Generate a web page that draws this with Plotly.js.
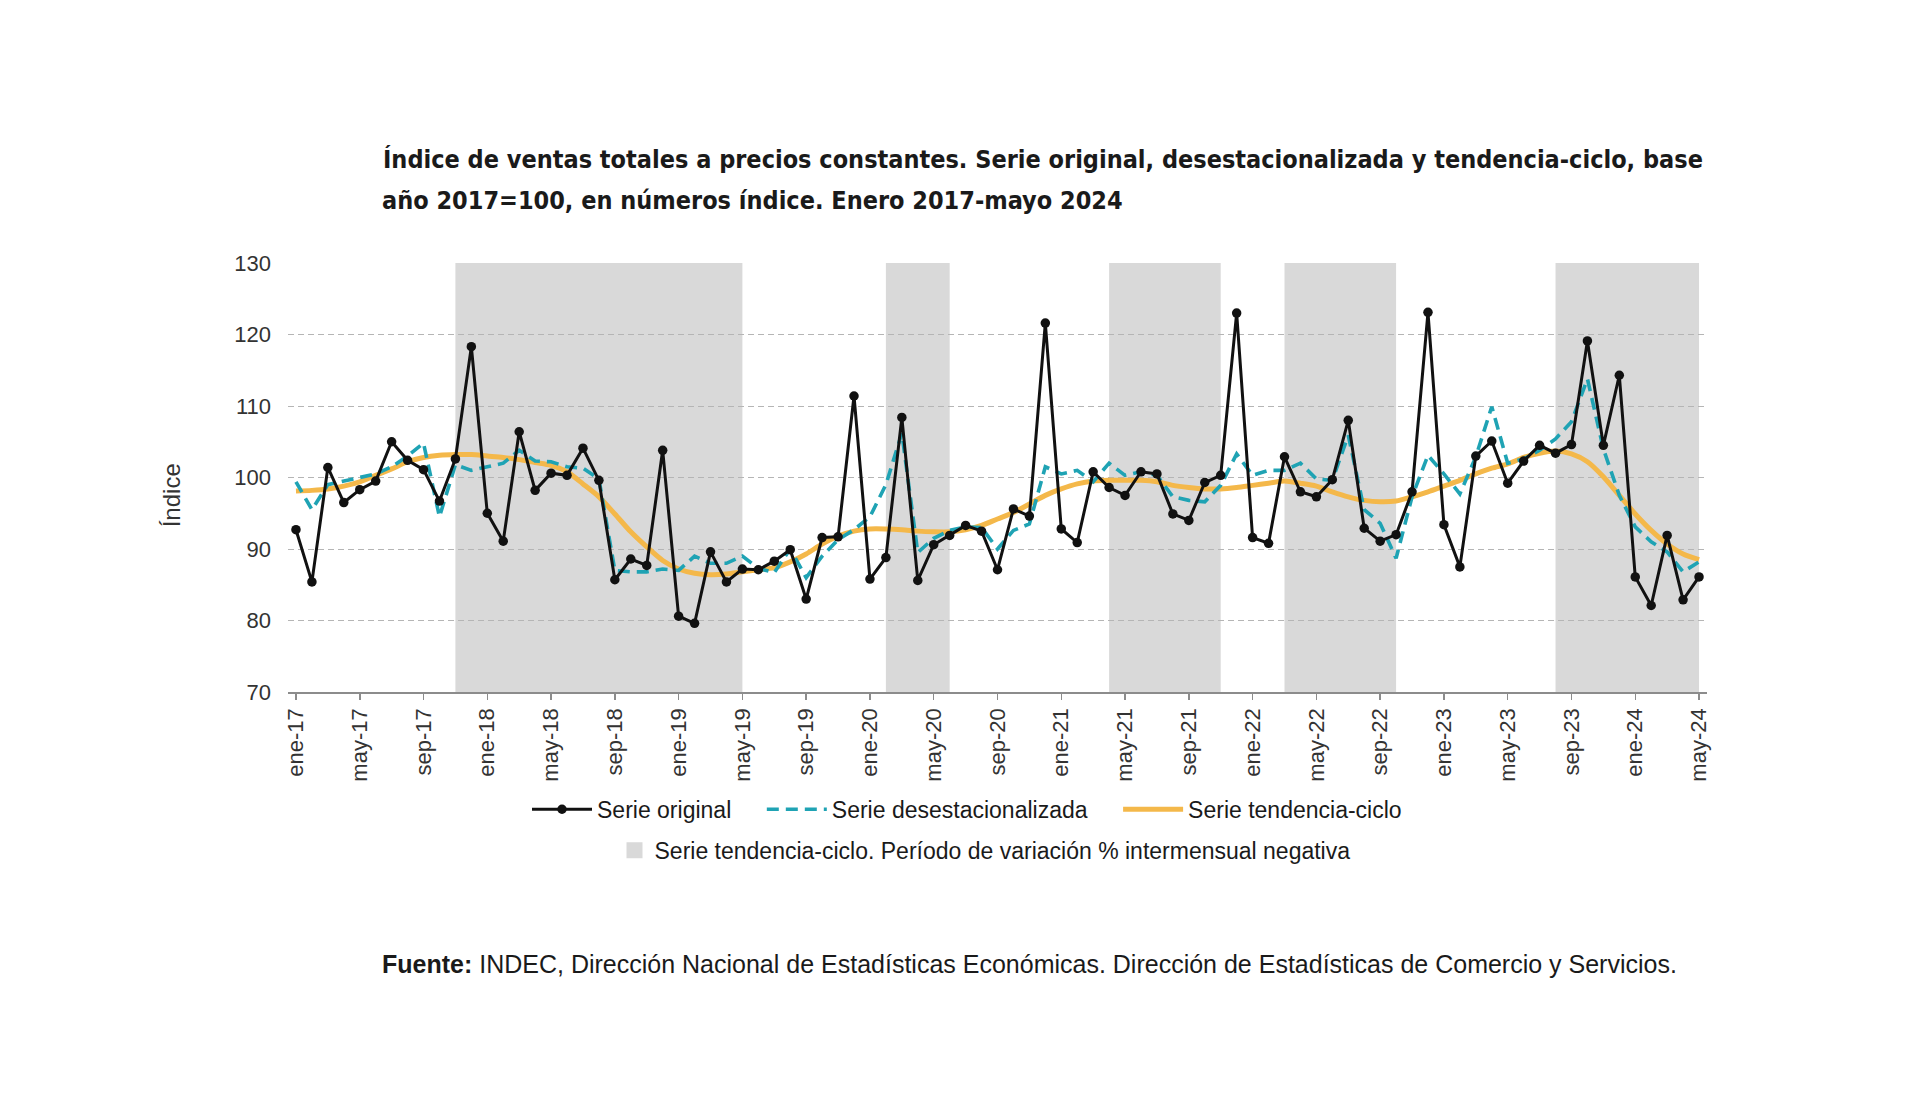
<!DOCTYPE html>
<html>
<head>
<meta charset="utf-8">
<script src="https://cdn.plot.ly/plotly-3.0.1.min.js"></script>
<style>
  html, body { margin: 0; padding: 0; background: #ffffff; }
  #chart { width: 1920px; height: 1117px; }
</style>
</head>
<body>
<div id="chart"></div>
<script>
// ---- Data ----
const monthNames = ['ene','feb','mar','abr','may','jun','jul','ago','sep','oct','nov','dic'];
const years = ['17','18','19','20','21','22','23','24'];
const lastMonthIndex2024 = 4; // mayo 2024

const serieOriginal = [
  92.7, 85.4, 101.4, 96.5, 98.3, 99.5, 105.0, 102.4, 101.1, 96.7, 102.6, 118.3,
  95.0, 91.1, 106.4, 98.2, 100.6, 100.3, 104.1, 99.6, 85.7, 88.6, 87.7, 103.8,
  80.6, 79.6, 89.6, 85.4, 87.2, 87.1, 88.3, 89.9, 83.0, 91.6, 91.7, 111.4,
  85.8, 88.8, 108.4, 85.6, 90.6, 91.9, 93.3, 92.5, 87.1, 95.6, 94.6, 121.6,
  92.8, 90.9, 100.8, 98.6, 97.5, 100.8, 100.5, 94.9, 94.0, 99.3, 100.3, 123.0,
  91.6, 90.8, 102.9, 98.0, 97.3, 99.7, 108.0, 92.9, 91.1, 92.0, 98.0, 123.1,
  93.4, 87.5, 103.0, 105.1, 99.2, 102.3, 104.5, 103.4, 104.6, 119.1, 104.5, 114.3,
  86.1, 82.1, 91.9, 82.9, 86.1
];

const serieDesestacionalizada = [
  99.4, 95.5, 99.0, 99.5, 100.0, 100.5, 101.5, 103.0, 104.8, 94.5, 101.8, 101.0,
  101.5, 102.0, 103.8, 102.3, 102.2, 101.5, 101.3, 99.8, 87.0, 86.8, 86.8, 87.2,
  87.0, 89.0, 88.0, 88.0, 89.0, 87.3, 86.7, 90.0, 86.0, 89.0, 91.3, 92.7,
  94.5, 99.0, 106.2, 89.5, 91.5, 92.6, 93.1, 93.0, 90.0, 92.6, 93.5, 101.5,
  100.5, 101.0, 99.4, 102.0, 100.3, 100.8, 100.3, 97.3, 96.8, 96.6, 98.9, 103.3,
  100.3, 101.0, 101.0, 102.0, 99.8, 99.6, 105.9, 95.5, 93.6, 88.7, 97.3, 103.1,
  100.5, 97.7, 102.9, 109.9, 102.0, 102.6, 103.8, 105.4, 107.8, 113.8, 104.0, 97.5,
  93.1, 91.0, 89.6, 86.8, 88.2
];

const serieTendencia = [
  98.1, 98.2, 98.4, 98.8, 99.4, 100.3, 101.2, 102.2, 102.8, 103.1, 103.2, 103.2,
  103.0, 102.8, 102.5, 102.1, 101.7, 100.8, 99.1, 97.3, 94.9, 92.4, 90.3, 88.4,
  87.2, 86.6, 86.4, 86.5, 86.8, 87.1, 87.4, 88.2, 89.3, 90.7, 91.8, 92.5,
  92.8, 92.8, 92.7, 92.5, 92.4, 92.4, 92.7, 93.3, 94.2, 95.1, 96.3, 97.5,
  98.4, 99.1, 99.5, 99.6, 99.6, 99.6, 99.4, 98.9, 98.6, 98.4, 98.4, 98.6,
  98.9, 99.2, 99.5, 99.2, 98.8, 98.0, 97.3, 96.8, 96.6, 96.7, 97.3, 98.0,
  98.8, 99.6, 100.5, 101.3, 101.9, 102.8, 103.4, 103.7, 103.3, 102.2, 100.1, 97.5,
  94.9, 92.6, 90.7, 89.3, 88.5
];

// Periods with negative month-on-month variation of the trend-cycle (shaded)
const sombraInicio = ['nov-17', 'feb-20', 'abr-21', 'mar-22', 'ago-23'];
const sombraFin    = ['may-19', 'jun-20', 'nov-21', 'oct-22', 'may-24'];

const tituloLinea1 = 'Índice de ventas totales a precios constantes. Serie original, desestacionalizada y tendencia-ciclo, base';
const tituloLinea2 = 'año 2017=100, en números índice. Enero 2017-mayo 2024';

// ---- Build category labels ----
const meses = [];
years.forEach((yy, yi) => {
  monthNames.forEach((m, mi) => {
    if (yi === years.length - 1 && mi > lastMonthIndex2024) return;
    meses.push(m + '-' + yy);
  });
});
const tickMeses = meses.filter((_, i) => i % 4 === 0);

// ---- Pick a condensed bold font for the title and size it to the reference width ----
const ctx = document.createElement('canvas').getContext('2d');
function textWidth(family, size, weight, txt) {
  ctx.font = weight + ' ' + size + 'px ' + family;
  return ctx.measureText(txt).width;
}
function pickFont(cands) {
  const probe = 'Índice de ventas totales abcdefghijklmnopqrstuvwxyz 0123456789';
  const base = textWidth('monospace', 30, 'bold', probe);
  for (const f of cands) {
    if (Math.abs(textWidth('"' + f + '", monospace', 30, 'bold', probe) - base) > 0.5) return f;
  }
  return 'Liberation Sans';
}
const tituloFamilia = pickFont(['Liberation Sans Narrow', 'Arial Narrow', 'DejaVu Sans Condensed', 'Liberation Sans']);
const anchoObjetivo = 1320; // px width of the first title line in the reference
let tituloTam = 30 * anchoObjetivo / textWidth('"' + tituloFamilia + '"', 30, 'bold', tituloLinea1);
tituloTam = Math.min(31, Math.max(20, tituloTam));
const tituloFont = { family: '"' + tituloFamilia + '", Liberation Sans, sans-serif', size: tituloTam, weight: 'bold', color: '#1a1a1a' };

const colNegro = '#111111';
const colTeal = '#1fa3b4';
const colNaranja = '#f4b84a';
const colSombra = '#d9d9d9';
const sp = '\u00a0\u00a0\u00a0\u00a0';

const traces = [
  {
    x: meses, y: serieTendencia, name: 'Serie tendencia-ciclo', type: 'scatter', mode: 'lines',
    line: { color: colNaranja, width: 5, shape: 'spline', smoothing: 0.8 },
    legend: 'legend', legendrank: 3
  },
  {
    x: meses, y: serieDesestacionalizada, name: 'Serie desestacionalizada' + sp, type: 'scatter', mode: 'lines',
    line: { color: colTeal, width: 3.6, dash: '12px,7px' },
    legend: 'legend', legendrank: 2
  },
  {
    x: meses, y: serieOriginal, name: 'Serie original' + sp, type: 'scatter', mode: 'lines+markers',
    line: { color: colNegro, width: 3 },
    marker: { color: colNegro, size: 9.5 },
    legend: 'legend', legendrank: 1
  },
  {
    x: [null], y: [null], name: 'Serie tendencia-ciclo. Período de variación % intermensual negativa',
    type: 'scatter', mode: 'markers',
    marker: { color: colSombra, symbol: 'square', size: 22 },
    legend: 'legend2', showlegend: true
  }
];

const shapes = sombraInicio.map((s, k) => ({
  type: 'rect', xref: 'x', yref: 'y',
  x0: meses.indexOf(s), x1: meses.indexOf(sombraFin[k]),
  y0: 70, y1: 130,
  fillcolor: colSombra, line: { width: 0 }, layer: 'below'
}));

const fontNormal = 'Liberation Sans, Arial, sans-serif';
// paper-coordinate helpers for the fixed plot area (left 288, top 262.7, 1419 x 429 px)
const px = (x) => (x - 288) / 1419;
const py = (y) => (691.7 - y) / 429;

const layout = {
  width: 1920, height: 1117,
  paper_bgcolor: '#ffffff', plot_bgcolor: '#ffffff',
  margin: { l: 288, r: 213, t: 263, b: 425 },
  showlegend: true,
  title: {
    text: tituloLinea1,
    x: 383 / 1920, xanchor: 'left', xref: 'container',
    y: 1 - 159 / 1117, yanchor: 'middle', yref: 'container',
    font: tituloFont
  },
  xaxis: {
    type: 'category', categoryorder: 'array', categoryarray: meses,
    range: [-0.5, 88.5],
    tickvals: tickMeses, ticktext: tickMeses,
    tickangle: -90,
    tickfont: { family: fontNormal, size: 22, color: '#333333' },
    showgrid: false, zeroline: false,
    showline: true, linecolor: '#8c8c8c', linewidth: 1.5,
    ticks: 'outside', ticklen: 6, tickcolor: '#8c8c8c', tickwidth: 1.5,
    fixedrange: true
  },
  yaxis: {
    range: [70, 130], dtick: 10, tick0: 70,
    tickfont: { family: fontNormal, size: 22, color: '#333333' },
    showgrid: true, gridcolor: '#b5b5b5', gridwidth: 1, griddash: '6px,4px',
    zeroline: false, showline: false, ticks: '', ticklabelstandoff: 16,
    fixedrange: true
  },
  shapes: shapes,
  legend: {
    orientation: 'h', x: px(967), xanchor: 'center',
    y: py(809), yanchor: 'middle',
    font: { family: fontNormal, size: 23, color: '#1a1a1a' },
    itemwidth: 60, bgcolor: 'rgba(0,0,0,0)', traceorder: 'normal'
  },
  legend2: {
    orientation: 'h', x: px(985), xanchor: 'center',
    y: py(850), yanchor: 'middle',
    font: { family: fontNormal, size: 23, color: '#1a1a1a' },
    itemwidth: 30, bgcolor: 'rgba(0,0,0,0)'
  },
  annotations: [
    {
      // second line of the title
      xref: 'paper', yref: 'paper',
      x: px(380), xanchor: 'left',
      y: py(200), yanchor: 'middle',
      showarrow: false, text: tituloLinea2, font: tituloFont
    },
    {
      // y axis title
      xref: 'paper', yref: 'paper',
      x: px(171), xanchor: 'center',
      y: py(495), yanchor: 'middle',
      textangle: -90, showarrow: false, text: 'Índice',
      font: { family: fontNormal, size: 24, color: '#333333' }
    },
    {
      xref: 'paper', yref: 'paper',
      x: px(380), xanchor: 'left',
      y: py(964), yanchor: 'middle',
      showarrow: false,
      text: '<b>Fuente:</b> INDEC, Dirección Nacional de Estadísticas Económicas. Dirección de Estadísticas de Comercio y Servicios.',
      font: { family: fontNormal, size: 25, color: '#1a1a1a' }
    }
  ]
};

Plotly.newPlot('chart', traces, layout, { staticPlot: true, displayModeBar: false });
</script>
</body>
</html>
